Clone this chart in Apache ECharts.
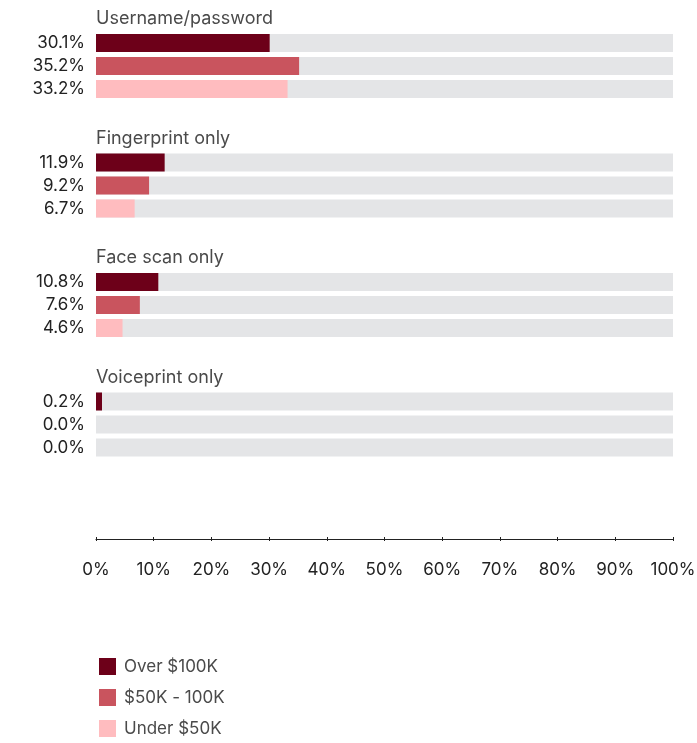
<!DOCTYPE html>
<html>
<head>
<meta charset="utf-8">
<style>
  html, body { margin: 0; padding: 0; background: #ffffff; }
  #chart { width: 697px; height: 743px; }
</style>
<script src="https://cdn.jsdelivr.net/npm/echarts@6/dist/echarts.min.js"></script>
</head>
<body>
<div id="chart"></div>
<script>
// Login methods by household income (share of respondents, %)
const groups = ['Username/password', 'Fingerprint only', 'Face scan only', 'Voiceprint only'];
const tiers = ['Over $100K', '$50K - 100K', 'Under $50K'];
const over100k = [30.1, 11.9, 10.8, 0.2];
const from50to100k = [35.2, 9.2, 7.6, 0.0];
const under50k = [33.2, 6.7, 4.6, 0.0];
const xTickLabels = ['0%', '10%', '20%', '30%', '40%', '50%', '60%', '70%', '80%', '90%', '100%'];

const tierValues = [over100k, from50to100k, under50k];
const tierColors = ['#6d0019', '#c9545e', '#ffbcbf'];

const FONT = 'Inter';
const GROUP_TOP = 31.5;
const GROUP_STEP = 119.5;
const GROUP_HEIGHT = 69;

const grids = [];
const xAxes = [];
const yAxes = [];
const titles = [];
const series = [];

groups.forEach(function (name, g) {
  const top = GROUP_TOP + GROUP_STEP * g;
  grids.push({ left: 96, right: 24, top: top, height: GROUP_HEIGHT, containLabel: false, outerBoundsMode: 'none' });
  xAxes.push({ type: 'value', gridIndex: g, min: 0, max: 100, interval: 10, show: false });
  yAxes.push({ type: 'category', gridIndex: g, inverse: true, data: tiers, show: false });
  titles.push({
    text: name,
    left: 96,
    top: top - 22.5,
    padding: 0,
    textStyle: { fontFamily: FONT, fontSize: 18, fontWeight: 'normal', color: '#4a4a4a', lineHeight: 20 }
  });
  tiers.forEach(function (tier, t) {
    const value = tierValues[t][g];
    const data = tiers.map(function (_, k) { return k === t ? value : '-'; });
    series.push({
      name: tier,
      type: 'bar',
      xAxisIndex: g,
      yAxisIndex: g,
      stack: 'group' + g,
      barWidth: 18,
      // keep tiny non-zero shares visible
      barMinHeight: value > 0 ? 6 : 0,
      data: data,
      showBackground: t === 0,
      backgroundStyle: { color: '#e4e5e7' },
      itemStyle: { color: tierColors[t] },
      label: {
        show: true,
        position: 'left',
        distance: 11,
        fontFamily: FONT,
        fontSize: 17,
        color: '#222222',
        formatter: function (p) { return p.value.toFixed(1) + '%'; }
      },
      emphasis: { disabled: true },
      animation: false
    });
  });
});

// Shared percentage axis drawn under the last group
const lastGrid = groups.length - 1;
const axisOffset = 80;
xAxes.push({
  type: 'value', gridIndex: lastGrid, min: 0, max: 100, interval: 10,
  position: 'bottom', offset: axisOffset,
  axisLine: { show: true, lineStyle: { color: '#222222', width: 1.2 } },
  axisTick: { show: true, length: 2, lineStyle: { color: '#222222', width: 1 } },
  splitLine: { show: false },
  axisLabel: {
    margin: 22, fontFamily: FONT, fontSize: 17, color: '#222222',
    formatter: function (v) { return xTickLabels[Math.round(v / 10)]; }
  }
});
xAxes.push({
  type: 'value', gridIndex: lastGrid, min: 0, max: 100, interval: 10,
  position: 'bottom', offset: axisOffset,
  axisLine: { show: false },
  axisTick: { show: true, inside: true, length: 2, lineStyle: { color: '#222222', width: 1 } },
  splitLine: { show: false },
  axisLabel: { show: false }
});

const chart = echarts.init(document.getElementById('chart'), null, { renderer: 'canvas' });
chart.setOption({
  animation: false,
  title: titles,
  grid: grids,
  xAxis: xAxes,
  yAxis: yAxes,
  legend: {
    data: tiers,
    orient: 'vertical',
    left: 99,
    top: 658,
    padding: 0,
    itemWidth: 17,
    itemHeight: 17,
    itemGap: 14,
    icon: 'rect',
    selectedMode: false,
    textStyle: { fontFamily: FONT, fontSize: 17, color: '#4a4a4a', lineHeight: 17, padding: [0, 0, 0, 3] }
  },
  series: series
});
</script>
</body>
</html>
